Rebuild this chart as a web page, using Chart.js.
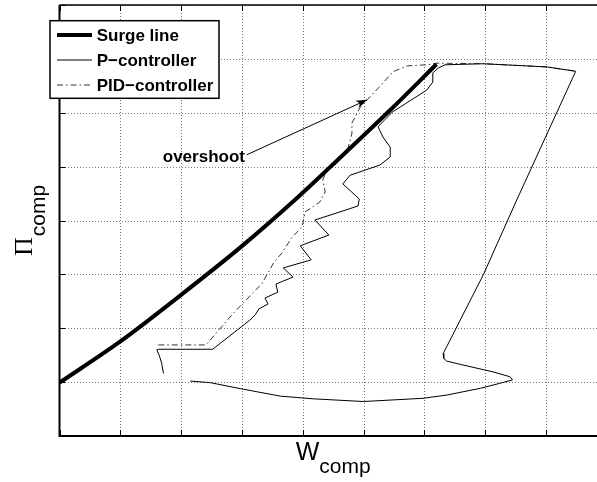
<!DOCTYPE html>
<html>
<head>
<meta charset="utf-8">
<script src="https://cdn.jsdelivr.net/npm/chart.js@4.4.1/dist/chart.umd.min.js"></script>
<style>
  html, body { margin: 0; padding: 0; background: #fff; overflow: hidden; }
  #wrap { position: relative; width: 610px; height: 482px; }
</style>
</head>
<body>
<div id="wrap"><canvas id="surgeChart"></canvas></div>
<script>
// Values in grid steps (the original axes carry no numbers)
const surgeW  = [0, 0.995, 2.0, 2.985, 3.87, 4.45, 5.44, 6.20];
const surgePi = [0.99, 1.75, 2.62, 3.51, 4.38, 4.99, 6.05, 6.90];

const pW  = [1.71, 1.68, 1.64, 1.60, 1.625, 2.52, 3.13, 3.22, 3.28, 3.43, 3.38, 3.59, 3.56, 3.84, 3.68,
             4.14, 3.96, 4.43, 4.20, 4.45, 4.91, 4.93, 4.66, 4.78, 5.27, 5.44, 5.44, 5.32, 5.24, 5.35,
             5.47, 6.04, 6.14, 6.14, 6.23, 6.34, 6.97, 8.02, 8.49, 7.52, 6.97, 6.59, 6.37, 6.31, 6.32,
             6.37, 6.59, 7.13, 7.41, 7.45, 7.25, 6.92, 6.37, 5.98, 5.00, 4.17, 3.63, 2.97, 2.48, 2.15];
const pPi = [1.16, 1.35, 1.50, 1.60, 1.61, 1.61, 2.15, 2.25, 2.36, 2.45, 2.56, 2.67, 2.82, 2.95, 3.12,
             3.27, 3.53, 3.73, 4.01, 4.10, 4.27, 4.40, 4.68, 4.84, 5.03, 5.18, 5.36, 5.55, 5.74, 5.87,
             6.01, 6.42, 6.57, 6.74, 6.83, 6.89, 6.91, 6.85, 6.77, 4.38, 2.99, 2.15, 1.66, 1.53, 1.44,
             1.39, 1.33, 1.19, 1.10, 1.04, 0.98, 0.885, 0.76, 0.70, 0.64, 0.69, 0.74, 0.88, 0.99, 1.02];

const pidW  = [1.625, 2.41, 2.86, 3.33, 3.52, 3.66, 3.82, 3.99, 4.04, 4.28, 4.37, 4.33, 4.40, 4.56,
               4.75, 4.81, 4.81, 4.94, 5.06, 5.32, 5.48, 5.72, 6.04, 6.21, 6.97, 8.02, 8.49];
const pidPi = [1.69, 1.69, 2.28, 2.83, 3.21, 3.40, 3.68, 3.88, 4.16, 4.34, 4.53, 4.75, 4.94, 5.07,
               5.36, 5.62, 5.81, 6.09, 6.24, 6.55, 6.76, 6.87, 6.89, 6.92, 6.91, 6.85, 6.77];

const xTicks = [0, 1, 2, 3, 4, 5, 6, 7, 8, 9];
const yTicks = [0, 1, 2, 3, 4, 5, 6, 7, 8];

const noteText = 'overshoot';
const noteAt = [3.05, 5.18];
const arrowFrom = [3.08, 5.22];
const arrowTo = [5.06, 6.24];

const toPoints = (xs, ys) => xs.map((x, i) => ({ x: x, y: ys[i] }));

// axes box, inward ticks, dotted grid, labels, legend and the arrow note
const decorPlugin = {
  id: 'decor',
  afterDraw(chart) {
    const ctx = chart.ctx;
    const a = chart.chartArea;
    const xs = chart.scales.x, ys = chart.scales.y;

    // dotted grid, slipped in behind what is already drawn
    ctx.save();
    ctx.globalCompositeOperation = 'destination-over';
    ctx.fillStyle = '#777';
    xTicks.slice(1).forEach(t => {
      const px = Math.round(xs.getPixelForValue(t));
      for (let y = Math.ceil(a.top) + 2; y < a.bottom; y += 3) ctx.fillRect(px, y, 1, 1);
    });
    yTicks.slice(1).forEach(t => {
      const py = Math.round(ys.getPixelForValue(t));
      for (let x = Math.ceil(a.left) + 2; x < a.right; x += 3) ctx.fillRect(x, py, 1, 1);
    });
    ctx.restore();

    ctx.save();
    // inward tick marks
    ctx.strokeStyle = '#000';
    ctx.lineWidth = 1;
    ctx.beginPath();
    xTicks.forEach(t => {
      const px = Math.round(xs.getPixelForValue(t)) + 0.5;
      ctx.moveTo(px, a.bottom); ctx.lineTo(px, a.bottom - 6);
      ctx.moveTo(px, a.top); ctx.lineTo(px, a.top + 6);
    });
    yTicks.forEach(t => {
      const py = Math.round(ys.getPixelForValue(t)) + 0.5;
      ctx.moveTo(a.left, py); ctx.lineTo(a.left + 6, py);
      ctx.moveTo(a.right, py); ctx.lineTo(a.right - 6, py);
    });
    ctx.stroke();

    // box
    ctx.lineWidth = 1.5;
    ctx.beginPath();
    ctx.moveTo(a.left, a.top); ctx.lineTo(a.right, a.top); ctx.lineTo(a.right, a.bottom);
    ctx.stroke();
    ctx.lineWidth = 2;
    ctx.beginPath();
    ctx.moveTo(a.left, a.top); ctx.lineTo(a.left, a.bottom); ctx.lineTo(a.right, a.bottom);
    ctx.stroke();

    // arrow note
    const fx = xs.getPixelForValue(arrowFrom[0]), fy = ys.getPixelForValue(arrowFrom[1]);
    const tx = xs.getPixelForValue(arrowTo[0]), ty = ys.getPixelForValue(arrowTo[1]);
    ctx.lineWidth = 1;
    ctx.beginPath(); ctx.moveTo(fx, fy); ctx.lineTo(tx, ty); ctx.stroke();
    const ang = Math.atan2(ty - fy, tx - fx);
    ctx.save();
    ctx.translate(tx, ty); ctx.rotate(ang);
    ctx.fillStyle = '#000';
    ctx.beginPath();
    ctx.moveTo(0, 0); ctx.lineTo(-11, -4); ctx.lineTo(-8, 0); ctx.lineTo(-11, 4); ctx.closePath();
    ctx.fill();
    ctx.restore();

    ctx.fillStyle = '#000';
    ctx.font = 'bold 17px "Liberation Sans", Arial, sans-serif';
    ctx.textAlign = 'right';
    ctx.textBaseline = 'middle';
    ctx.fillText(noteText, xs.getPixelForValue(noteAt[0]), ys.getPixelForValue(noteAt[1]));

    // x axis label W_comp
    const big = '25px "Liberation Sans", Arial, sans-serif';
    const sub = '21px "Liberation Sans", Arial, sans-serif';
    ctx.textAlign = 'left';
    ctx.textBaseline = 'alphabetic';
    ctx.font = big; const wW = ctx.measureText('W').width;
    ctx.font = sub; const wC = ctx.measureText('comp').width;
    let sx = (a.left + a.right) / 2 - (wW + wC) / 2;
    ctx.font = big; ctx.fillText('W', sx, 460);
    ctx.font = sub; ctx.fillText('comp', sx + wW, 473);

    // y axis label Π_comp
    const piFont = '26px "Liberation Serif", "Times New Roman", serif';
    ctx.font = piFont; const wP = ctx.measureText('Π').width;
    const cy = (a.top + a.bottom) / 2 + (wP + 1 + wC) / 2;
    ctx.save();
    ctx.translate(31.7, cy);
    ctx.rotate(-Math.PI / 2);
    ctx.font = piFont; ctx.fillText('Π', 0, 0);
    ctx.font = sub; ctx.fillText('comp', wP + 1, 13.5);
    ctx.restore();

    // legend
    const lx = 50, ly = 20.7, lw = 169, lh = 77.6;
    ctx.fillStyle = '#fff';
    ctx.fillRect(lx, ly, lw, lh);
    ctx.strokeStyle = '#000';
    ctx.lineWidth = 1.5;
    ctx.strokeRect(lx, ly, lw, lh);
    ctx.font = 'bold 17px "Liberation Sans", Arial, sans-serif';
    ctx.textBaseline = 'middle';
    chart.data.datasets.forEach((ds, i) => {
      const yy = 35 + i * 25;
      ctx.strokeStyle = ds.borderColor;
      ctx.lineWidth = ds.borderWidth;
      ctx.setLineDash(ds.borderDash || []);
      ctx.beginPath(); ctx.moveTo(57, yy); ctx.lineTo(92, yy); ctx.stroke();
      ctx.setLineDash([]);
      ctx.fillStyle = '#000';
      ctx.fillText(ds.label, 96.7, yy + 1);
    });

    ctx.restore();
  }
};

const canvas = document.getElementById('surgeChart');
new Chart(canvas.getContext('2d'), {
  type: 'scatter',
  data: {
    datasets: [
      {
        label: 'Surge line',
        data: toPoints(surgeW, surgePi),
        showLine: true,
        borderColor: '#000',
        borderWidth: 4,
        pointRadius: 0,
        cubicInterpolationMode: 'monotone'
      },
      {
        label: 'P\u2212controller',
        data: toPoints(pW, pPi),
        showLine: true,
        borderColor: '#000',
        borderWidth: 1,
        pointRadius: 0,
        tension: 0
      },
      {
        label: 'PID\u2212controller',
        data: toPoints(pidW, pidPi),
        showLine: true,
        borderColor: '#333',
        borderWidth: 1,
        borderDash: [6, 3, 1.5, 3],
        pointRadius: 0,
        tension: 0
      }
    ]
  },
  options: {
    responsive: true,
    maintainAspectRatio: false,
    animation: false,
    events: [],
    layout: { padding: { left: 59.5, top: 5, right: 3.3, bottom: 46 } },
    plugins: {
      legend: { display: false },
      tooltip: { enabled: false }
    },
    scales: {
      x: {
        type: 'linear',
        min: 0,
        max: 9,
        ticks: { display: false, stepSize: 1 },
        grid: { display: false, drawTicks: false },
        border: { display: false }
      },
      y: {
        type: 'linear',
        min: 0,
        max: 8,
        ticks: { display: false, stepSize: 1 },
        grid: { display: false, drawTicks: false },
        border: { display: false }
      }
    }
  },
  plugins: [decorPlugin]
});
</script>
</body>
</html>
